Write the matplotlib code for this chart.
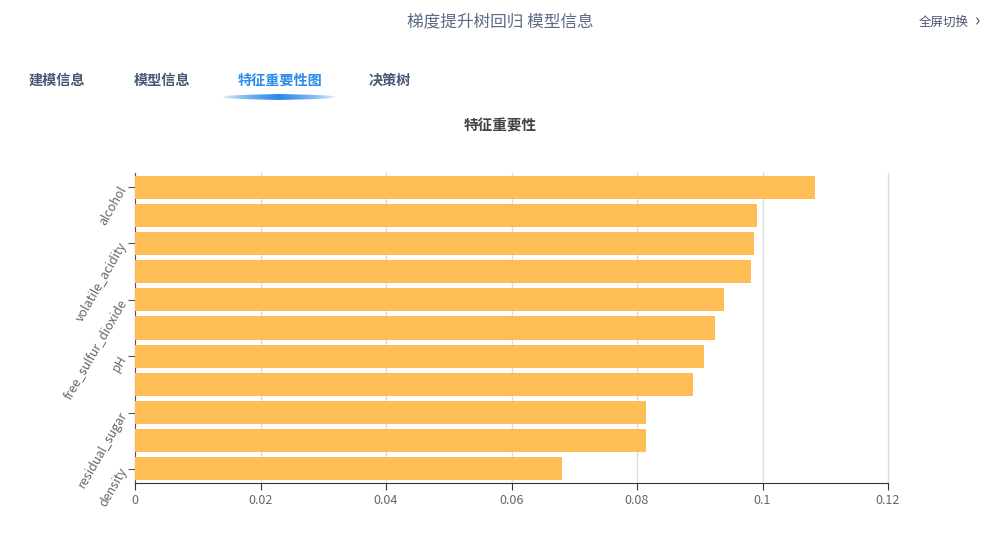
import matplotlib
matplotlib.use("Agg")
import matplotlib.pyplot as plt
import numpy as np
from matplotlib.path import Path
from matplotlib.patches import PathPatch

plt.rcParams['font.family'] = ['Noto Sans CJK SC', 'DejaVu Sans']

# Data (top to bottom as shown)
features = ['alcohol', 'sulphates', 'volatile_acidity', 'total_sulfur_dioxide',
            'free_sulfur_dioxide', 'chlorides', 'pH', 'citric_acid',
            'residual_sugar', 'fixed_acidity', 'density']
importance = [0.1083, 0.0991, 0.0986, 0.0981, 0.0938, 0.0925,
              0.0906, 0.0890, 0.0815, 0.0814, 0.0681]
xticks = [0, 0.02, 0.04, 0.06, 0.08, 0.1, 0.12]
xtick_labels = ['0', '0.02', '0.04', '0.06', '0.08', '0.1', '0.12']
tabs = ['建模信息', '模型信息', '特征重要性图', '决策树']
tab_x = [57, 162, 280, 390]

W, H = 983, 548
fig = plt.figure(figsize=(W / 100, H / 100), dpi=100)

# Header
fig.text(500 / W, 1 - 22 / H, '梯度提升树回归 模型信息', ha='center', va='center',
         fontsize=12, color='#5b6a86')
fig.text(944 / W, 1 - 22 / H, '全屏切换', ha='center', va='center',
         fontsize=9, color='#4a5570')
fig.text(975 / W, 1 - 21 / H, '›', ha='left', va='center',
         fontsize=13, color='#4a5570')

# Tabs
for name, x in zip(tabs, tab_x):
    active = name == '特征重要性图'
    fig.text(x / W, 1 - 81 / H, name, ha='center', va='center', fontsize=10.2,
             fontweight='bold', color='#2b8ced' if active else '#4a5877')

# Gradient underline below active tab
ul = fig.add_axes([222 / W, 1 - 100 / H, 114 / W, 6 / H])
ul.set_xlim(0, 1)
ul.set_ylim(-1, 1)
ul.axis('off')
grad = np.zeros((2, 200, 4))
t = np.linspace(0, 1, 200)
grad[..., 0] = 0.16
grad[..., 1] = 0.53
grad[..., 2] = 0.92
grad[..., 3] = np.clip(1 - np.abs(t - 0.5) * 2, 0, 1) ** 0.6
im = ul.imshow(grad, extent=[0, 1, -1, 1], aspect='auto')
xs = np.linspace(0, 1, 60)
thick = 0.15 + 0.85 * (1 - np.abs(xs - 0.5) * 2) ** 0.5
verts = list(zip(xs, thick)) + list(zip(xs[::-1], -thick[::-1]))
clip = PathPatch(Path(verts + [verts[0]]), transform=ul.transData,
                 facecolor='none', edgecolor='none')
ul.add_patch(clip)
im.set_clip_path(clip)

# Chart title
fig.text(500 / W, 1 - 126 / H, '特征重要性', ha='center', va='center',
         fontsize=10.5, fontweight='bold', color='#444444')

# Main chart
ax = fig.add_axes([135 / W, 1 - 483 / H, 753 / W, 310 / H])
y = np.arange(len(features))
ax.barh(y, importance, height=0.82, color='#ffbe55', zorder=3)
ax.set_ylim(len(features) - 0.5, -0.5)
ax.set_xlim(0, 0.12)
ax.set_xticks(xticks)
ax.set_xticklabels(xtick_labels)
ax.set_yticks(y[::2])
ax.set_yticklabels(features[::2], rotation=60, ha='right', va='center',
                   rotation_mode='anchor')
ax.grid(axis='x', color='#dcdcdc', linewidth=1, zorder=0)
for gl in ax.get_xgridlines():
    gl.set_clip_on(False)
ax.set_axisbelow(True)
for s in ['top', 'right']:
    ax.spines[s].set_visible(False)
ax.spines['left'].set_color('#555555')
ax.spines['left'].set_zorder(1)
ax.spines['bottom'].set_color('#333333')
ax.spines['bottom'].set_zorder(4)
ax.tick_params(axis='x', colors='#333333', labelcolor='#666666', labelsize=9,
               length=5, direction='out', pad=3)
ax.tick_params(axis='y', colors='#555555', labelcolor='#666666', labelsize=9,
               length=5, pad=3)

fig.savefig('out.png', dpi=100)
